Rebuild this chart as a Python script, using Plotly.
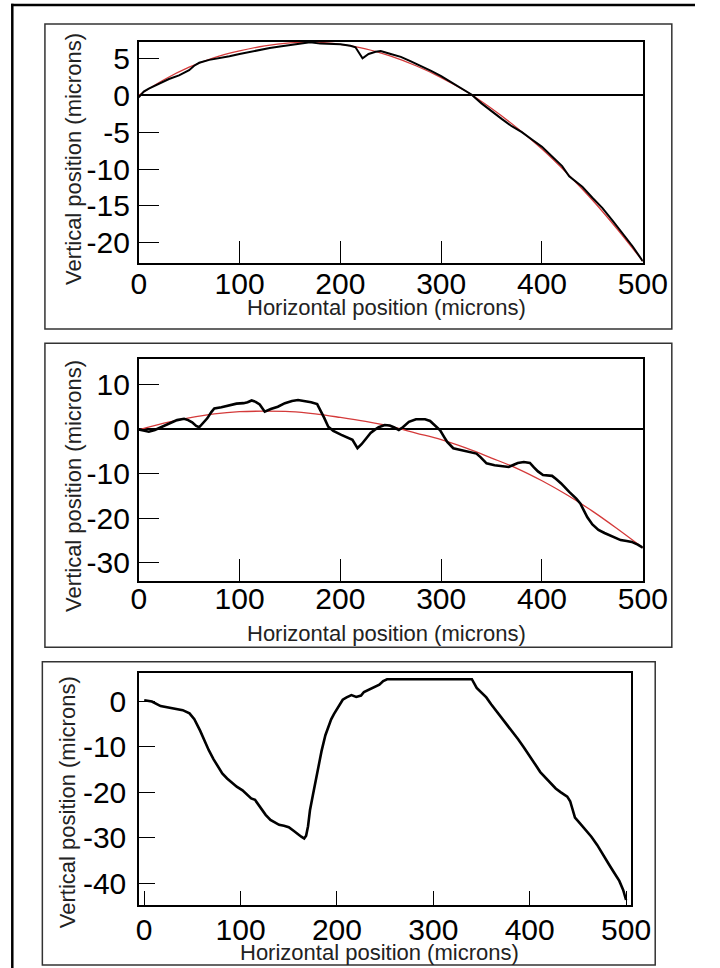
import plotly.graph_objects as go

W, H = 720, 968

# ---------------- data ----------------
# Panel 1 (top): measured profile and fitted curve
p1_x = [0, 5, 10, 20, 30, 40, 50, 55, 60, 70, 80, 90, 100, 110, 120, 130, 140, 150,
        160, 170, 180, 190, 200, 210, 215, 222, 228, 235, 240, 250, 260, 270, 280,
        290, 300, 310, 320, 330, 340, 350, 360, 370, 380, 390, 400, 410, 420, 427,
        435, 440, 450, 460, 470, 480, 490, 500]
p1_y = [-0.3, 0.5, 0.9, 1.6, 2.2, 2.7, 3.4, 4.0, 4.4, 4.8, 5.0, 5.3, 5.6, 5.9, 6.2,
        6.4, 6.6, 6.8, 7.1, 7.2, 7.0, 7.0, 6.9, 6.7, 6.5, 5.0, 5.6, 5.9, 6.0, 5.6,
        5.2, 4.6, 4.0, 3.3, 2.6, 1.8, 1.0, 0.1, -1.1, -2.2, -3.2, -4.2, -5.0, -6.0,
        -7.0, -8.3, -9.6, -11.0, -11.8, -12.4, -13.9, -15.3, -17.0, -18.7, -20.5, -22.5]
p1_fit_x = [0, 25, 50, 75, 100, 125, 150, 175, 200, 225, 250, 275, 300, 325, 350,
            375, 400, 425, 450, 475, 500]
p1_fit_y = [0.0, 2.1, 3.8, 5.1, 6.0, 6.7, 7.1, 7.2, 6.9, 6.3, 5.3, 4.0, 2.4, 0.5,
            -1.8, -4.4, -7.3, -10.6, -14.2, -18.2, -22.5]

# Panel 2 (middle)
p2_x = [0, 5, 10, 16, 23, 30, 38, 45, 49, 53, 57, 60, 64, 68, 72, 75, 82, 88, 97,
        104, 108, 112, 116, 120, 125, 131, 138, 145, 152, 158, 165, 171, 177, 181,
        184, 188, 193, 201, 207, 212, 217, 221, 226, 230, 234, 238, 244, 249, 253,
        258, 262, 268, 275, 284, 289, 292, 296, 299, 303, 306, 312, 320, 329, 335,
        339, 345, 353, 361, 367, 372, 376, 382, 388, 392, 396, 401, 410, 414, 419,
        427, 434, 438, 442, 445, 450, 456, 462, 467, 473, 478, 484, 489, 495, 500]
p2_y = [-0.1, -0.4, -0.6, -0.2, 0.5, 1.2, 2.0, 2.3, 2.0, 1.5, 0.7, 0.4, 1.3, 2.4,
        3.8, 4.6, 4.9, 5.2, 5.7, 5.8, 6.0, 6.4, 6.1, 5.5, 3.9, 4.5, 5.0, 5.8, 6.3,
        6.5, 6.3, 6.0, 5.6, 4.0, 2.5, 0.5, -0.4, -1.3, -1.9, -2.4, -4.3, -3.4, -2.0,
        -0.9, -0.2, 0.4, 0.9, 0.8, 0.4, -0.2, 0.4, 1.6, 2.2, 2.2, 1.8, 1.2, 0.4, -0.3,
        -1.8, -2.9, -4.3, -4.7, -5.1, -5.5, -6.3, -7.7, -8.1, -8.4, -8.5, -8.0, -7.6,
        -7.4, -7.6, -8.6, -9.5, -10.3, -10.5, -11.2, -12.2, -14.1, -15.6, -16.7,
        -18.4, -19.8, -21.4, -22.6, -23.3, -23.8, -24.4, -24.9, -25.1, -25.3, -25.9,
        -26.6]
p2_fit_x = [0, 25, 50, 75, 100, 125, 150, 175, 200, 225, 250, 275, 300, 325, 350,
            375, 400, 425, 450, 475, 500]
p2_fit_y = [-0.2, 1.3, 2.5, 3.4, 3.9, 4.0, 3.9, 3.4, 2.6, 1.7, 0.6, -0.9, -2.4,
            -4.3, -6.5, -8.8, -11.6, -14.8, -18.4, -22.4, -26.6]

# Panel 3 (bottom)
p3_x = [0, 8, 17, 25, 33, 40, 47, 52, 58, 63, 67, 72, 77, 81, 86, 90, 96, 102, 107,
        111, 115, 118, 122, 126, 131, 136, 140, 145, 150, 155, 159, 163, 166, 168,
        170, 172, 175, 177, 180, 184, 188, 191, 194, 197, 200, 203, 206, 210, 215,
        220, 225, 228, 234, 238, 244, 248, 252, 300, 340, 345, 350, 355, 360, 364,
        370, 376, 382, 388, 394, 400, 406, 411, 417, 422, 427, 432, 436, 439, 442,
        444, 447, 452, 458, 464, 470, 476, 482, 487, 493, 497, 500]
p3_y = [0.2, -0.1, -1.1, -1.4, -1.7, -2.0, -2.7, -4.0, -6.5, -9.0, -10.8, -12.8,
        -14.6, -15.9, -17.0, -17.7, -18.8, -19.6, -20.6, -21.4, -21.7, -22.6, -24.0,
        -25.0, -26.1, -26.8, -27.2, -27.4, -27.7, -28.5, -29.2, -29.8, -30.2, -29.6,
        -27.5, -24.0, -20.7, -18.5, -15.2, -11.0, -7.5, -5.6, -4.0, -2.8, -1.7, -0.6,
        0.3, 0.8, 1.3, 0.9, 1.2, 2.0, 2.6, 3.1, 3.6, 4.4, 4.8, 4.8, 4.8, 2.9, 1.9,
        0.8, -0.7, -1.8, -3.5, -5.0, -6.6, -8.4, -10.2, -12.0, -14.0, -15.6, -17.0,
        -18.2, -19.2, -20.0, -20.5, -21.0, -22.0, -23.5, -25.6, -26.8, -28.2, -29.8,
        -31.6, -33.8, -35.8, -37.5, -39.5, -41.5, -43.7]

x_tick_vals = [0, 100, 200, 300, 400, 500]
x_tick_text = ["0", "100", "200", "300", "400", "500"]
y1_tick_vals = [5, 0, -5, -10, -15, -20]
y1_tick_text = ["5", "0", "-5", "-10", "-15", "-20"]
y2_tick_vals = [10, 0, -10, -20, -30]
y2_tick_text = ["10", "0", "-10", "-20", "-30"]
y3_tick_vals = [0, -10, -20, -30, -40]
y3_tick_text = ["0", "-10", "-20", "-30", "-40"]

x_title = "Horizontal position (microns)"
y_title = "Vertical position (microns)"

# ---------------- layout helpers ----------------
def px(x):
    return x / W

def py(y):
    return 1 - y / H

FONT = "Liberation Sans, Arial, Helvetica, sans-serif"

fig = go.Figure()

red = dict(color="#d43a3a", width=1.3)
blk1 = dict(color="black", width=2.0)
blk = dict(color="black", width=2.6)

fig.add_trace(go.Scatter(x=p1_fit_x, y=p1_fit_y, mode="lines", line=red,
                         line_shape="spline", xaxis="x", yaxis="y"))
fig.add_trace(go.Scatter(x=p1_x, y=p1_y, mode="lines", line=blk1, xaxis="x", yaxis="y"))
fig.add_trace(go.Scatter(x=p2_fit_x, y=p2_fit_y, mode="lines", line=red,
                         line_shape="spline", xaxis="x2", yaxis="y2"))
fig.add_trace(go.Scatter(x=p2_x, y=p2_y, mode="lines", line=blk, xaxis="x2", yaxis="y2"))
fig.add_trace(go.Scatter(x=p3_x, y=p3_y, mode="lines", line=blk, xaxis="x3", yaxis="y3"))

common = dict(showline=True, linecolor="black", linewidth=1.5, mirror=True,
              ticks="inside", tickcolor="black", tickwidth=1.3, showgrid=False,
              tickfont=dict(family=FONT, size=30, color="black"))

fig.update_layout(
    width=W, height=H, margin=dict(l=0, r=0, t=0, b=0),
    paper_bgcolor="white", plot_bgcolor="white", showlegend=False,
    xaxis=dict(common, domain=[px(137), px(665.3)], range=[0, 500], anchor="y",
               tickvals=x_tick_vals, ticktext=x_tick_text, ticklen=22,
               zeroline=False, ticklabelstandoff=-6),
    yaxis=dict(common, domain=[py(262.7), py(41.7)], range=[-22.7, 7.26], anchor="x",
               tickvals=y1_tick_vals, ticktext=y1_tick_text, ticklen=21,
               zeroline=True, zerolinecolor="black", zerolinewidth=1.5,
               ticklabelstandoff=1),
    xaxis2=dict(common, domain=[px(137), px(665.3)], range=[0, 500], anchor="y2",
                tickvals=x_tick_vals, ticktext=x_tick_text, ticklen=22,
                zeroline=False, ticklabelstandoff=-9),
    yaxis2=dict(common, domain=[py(580.7), py(359)], range=[-34.0, 15.7], anchor="x2",
                tickvals=y2_tick_vals, ticktext=y2_tick_text, ticklen=21,
                zeroline=True, zerolinecolor="black", zerolinewidth=1.5,
                ticklabelstandoff=1),
    xaxis3=dict(common, domain=[px(137.3), px(653.3)], range=[-5.4, 505.5], anchor="y3",
                tickvals=x_tick_vals, ticktext=x_tick_text, ticklen=14,
                zeroline=False, ticklabelstandoff=-3),
    yaxis3=dict(common, domain=[py(905), py(673.3)], range=[-44.8, 6.1], anchor="x3",
                tickvals=y3_tick_vals, ticktext=y3_tick_text, ticklen=16,
                zeroline=False, ticklabelstandoff=5),
)

# panel boxes and outer frame (outer frame: only top and left edges are visible)
noline = "rgba(0,0,0,0)"
shapes = [
    dict(type="line", xref="paper", yref="paper", x0=px(3.3), x1=1, y0=py(5), y1=py(5),
         line=dict(color="black", width=2.5)),
    dict(type="line", xref="paper", yref="paper", x0=px(4.5), x1=px(4.5), y0=py(3.8), y1=0,
         line=dict(color="black", width=2.5)),
    dict(type="rect", xref="paper", yref="paper", x0=px(38.7), x1=px(695.7), y0=py(24), y1=py(329),
         line=dict(color="#333333", width=1.5), fillcolor=noline, layer="below"),
    dict(type="rect", xref="paper", yref="paper", x0=px(38.7), x1=px(695.7), y0=py(343.3), y1=py(647.3),
         line=dict(color="#333333", width=1.5), fillcolor=noline, layer="below"),
    dict(type="rect", xref="paper", yref="paper", x0=px(36), x1=px(678.3), y0=py(661.7), y1=py(965),
         line=dict(color="#333333", width=1.5), fillcolor=noline, layer="below"),
]
fig.update_layout(shapes=shapes)

tfont = dict(family=FONT, size=22, color="#222222")
annots = [
    dict(text=x_title, x=px(397), y=py(307), xref="paper", yref="paper",
         showarrow=False, font=tfont, xanchor="center", yanchor="middle"),
    dict(text=x_title, x=px(397), y=py(633), xref="paper", yref="paper",
         showarrow=False, font=tfont, xanchor="center", yanchor="middle"),
    dict(text=x_title, x=px(389), y=py(952), xref="paper", yref="paper",
         showarrow=False, font=tfont, xanchor="center", yanchor="middle"),
    dict(text=y_title, x=px(68), y=py(159), xref="paper", yref="paper", textangle=-90,
         showarrow=False, font=tfont, xanchor="center", yanchor="middle"),
    dict(text=y_title, x=px(68), y=py(486), xref="paper", yref="paper", textangle=-90,
         showarrow=False, font=tfont, xanchor="center", yanchor="middle"),
    dict(text=y_title, x=px(62), y=py(802), xref="paper", yref="paper", textangle=-90,
         showarrow=False, font=tfont, xanchor="center", yanchor="middle"),
]
fig.update_layout(annotations=annots)

fig.write_html(
    "out.html",
    config={"displayModeBar": False},
    post_script="document.body.style.margin='0px';document.body.style.overflow='hidden';",
)
